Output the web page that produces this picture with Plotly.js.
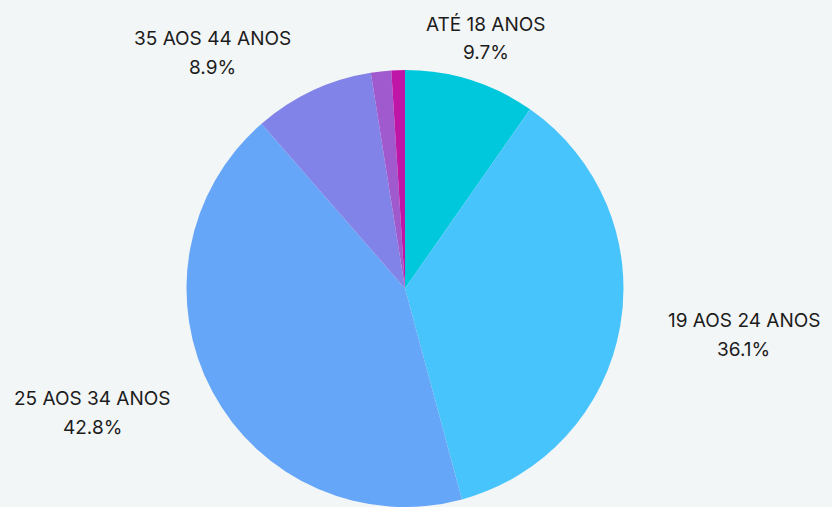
<!DOCTYPE html>
<html>
<head>
<meta charset="utf-8">
<script src="https://cdn.plot.ly/plotly-3.0.1.min.js"></script>
<style>html,body{margin:0;padding:0;background:#F3F6F7;}#chart{width:832px;height:507px;}</style>
</head>
<body>
<div id="chart"></div>
<script>
// ---- data ----
const categories = ["ATÉ 18 ANOS", "19 AOS 24 ANOS", "25 AOS 34 ANOS", "35 AOS 44 ANOS", "45 AOS 59 ANOS", "60 ANOS OU MAIS"];
const values = [9.7, 36.1, 42.8, 8.9, 1.5, 1.0];
const colors = ["#00C8DC", "#48C4FC", "#66A6F9", "#8183E8", "#A05ACD", "#C016A8"];
const shownLabels = [true, true, true, true, false, false];

// ---- layout constants ----
const W = 832, H = 507;
const margin = {l: 0, r: 22, t: 70, b: 0};
const plotW = W - margin.l - margin.r, plotH = H - margin.t - margin.b;
const radius = Math.min(plotW, plotH) / 2;
const cx = margin.l + plotW / 2, cy = margin.t + plotH / 2;
// label placement: distance from pie centre and angular nudge (deg) from slice mid-angle
const labelDist = [263, 342, 336, 304, 0, 0];
const labelNudge = [0.4, -2.1, 6.3, -14.2, 0, 0];
const lineGap = 28.5;
const labelFont = {family: "Inter, 'Noto Sans', sans-serif", size: 19, color: "#1c1c1c"};

const total = values.reduce((a, b) => a + b, 0);
const annotations = [];
let cum = 0;
values.forEach((v, i) => {
  const mid = (cum + v / 2) / total * 360;
  cum += v;
  if (!shownLabels[i]) return;
  const a = (mid + labelNudge[i]) * Math.PI / 180;
  const px = cx + labelDist[i] * Math.sin(a);
  const py = cy - labelDist[i] * Math.cos(a);
  const lines = [categories[i], (v / total * 100).toFixed(1) + "%"];
  lines.forEach((t, k) => {
    const ly = py + (k === 0 ? -lineGap / 2 : lineGap / 2);
    annotations.push({
      text: t, showarrow: false,
      xref: "paper", yref: "paper",
      x: (px - margin.l) / plotW, y: (H - margin.b - ly) / plotH,
      xanchor: "center", yanchor: "middle",
      font: labelFont
    });
  });
});

Plotly.newPlot("chart", [{
  type: "pie",
  labels: categories,
  values: values,
  textinfo: "none",
  sort: false,
  direction: "clockwise",
  rotation: 0,
  marker: {colors: colors, line: {width: 0}},
  showlegend: false
}], {
  width: W,
  height: H,
  paper_bgcolor: "#F3F6F7",
  plot_bgcolor: "#F3F6F7",
  margin: margin,
  showlegend: false,
  annotations: annotations
}, {displayModeBar: false, staticPlot: true});
</script>
</body>
</html>
